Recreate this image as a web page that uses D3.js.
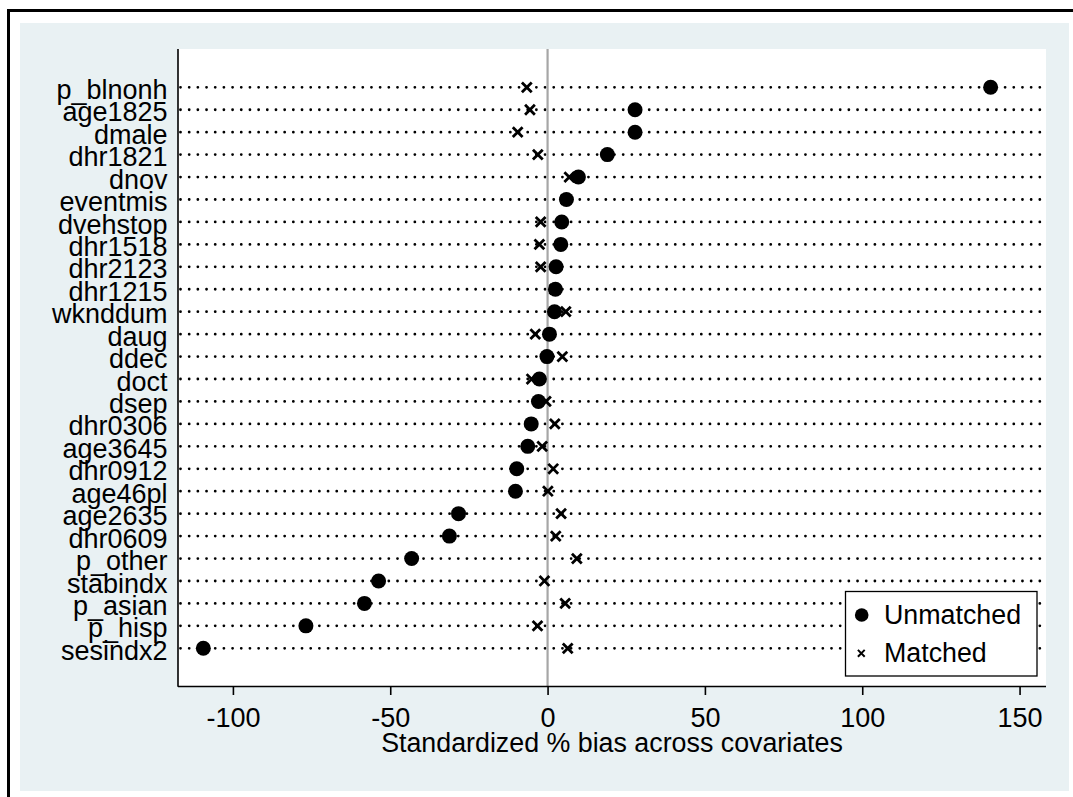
<!DOCTYPE html>
<html>
<head>
<meta charset="utf-8">
<script src="https://cdn.jsdelivr.net/npm/d3@7"></script>
<style>
  body { margin: 0; background: #fff; }
  svg { display: block; font-family: "Liberation Sans", Arial, sans-serif; }
</style>
</head>
<body>
<svg id="chart" width="1073" height="797"></svg>
<script>
// covariates, top to bottom
var covariates = ["p_blnonh","age1825","dmale","dhr1821","dnov","eventmis","dvehstop","dhr1518",
  "dhr2123","dhr1215","wknddum","daug","ddec","doct","dsep","dhr0306","age3645","dhr0912",
  "age46pl","age2635","dhr0609","p_other","stabindx","p_asian","p_hisp","sesindx2"];
var unmatched = [140.8, 27.8, 27.8, 19.0, 9.8, 6.0, 4.5, 4.2, 2.7, 2.5, 2.2, 0.6, -0.2,
  -2.6, -2.9, -5.2, -6.3, -9.8, -10.2, -28.3, -31.2, -43.2, -53.7, -58.2, -76.8, -109.4];
var matched = [-6.6, -5.6, -9.5, -3.1, 6.9, 5.8, -2.2, -2.6, -2.2, 2.2, 5.8, -3.9, 4.7,
  -5.1, -0.5, 2.3, -1.7, 1.8, 0.1, 4.3, 2.6, 9.3, -1.0, 5.6, -3.2, 6.4];
var xTicks = [-100, -50, 0, 50, 100, 150];
var xTitle = "Standardized % bias across covariates";
var legendLabels = ["Unmatched", "Matched"];

var data = covariates.map((name, i) => ({name: name, u: unmatched[i], m: matched[i]}));

var svg = d3.select("#chart");
var plot = {left: 178, right: 1046, top: 49, bottom: 686};
var font = "'Liberation Sans', Arial, sans-serif";

// graph region
svg.append("rect")
    .attr("x", 20).attr("y", 23).attr("width", 1049).attr("height", 768)
    .attr("fill", "#e9f1f3");
svg.append("rect")
    .attr("x", plot.left).attr("y", plot.top)
    .attr("width", plot.right - plot.left).attr("height", plot.bottom - plot.top)
    .attr("fill", "#fff");

var x = d3.scaleLinear()
    .domain([-117.45, 158.4])
    .range([plot.left, plot.right]);

var y = d3.scalePoint()
    .domain(covariates)
    .range([87.3, 648.3]);

// dotted row lines
svg.append("g")
  .selectAll("line")
  .data(covariates)
  .join("line")
    .attr("x1", plot.left + 2.5)
    .attr("x2", plot.right)
    .attr("y1", d => y(d))
    .attr("y2", d => y(d))
    .attr("stroke", "#000")
    .attr("stroke-width", 2.8)
    .attr("stroke-linecap", "round")
    .attr("stroke-dasharray", "0 8.68");

// zero line
svg.append("line")
    .attr("x1", x(0)).attr("x2", x(0))
    .attr("y1", plot.top).attr("y2", plot.bottom)
    .attr("stroke", "#a6a6a6").attr("stroke-width", 2.2);

// matched markers (x)
var cross = s => `M${-s},${-s}L${s},${s}M${-s},${s}L${s},${-s}`;
svg.append("g")
  .selectAll("path")
  .data(data)
  .join("path")
    .attr("transform", d => `translate(${x(d.m)},${y(d.name)})`)
    .attr("d", cross(4.9))
    .attr("fill", "none")
    .attr("stroke", "#000")
    .attr("stroke-width", 2.8);

// unmatched markers (dots)
svg.append("g")
  .selectAll("circle")
  .data(data)
  .join("circle")
    .attr("cx", d => x(d.u))
    .attr("cy", d => y(d.name))
    .attr("r", 7.5)
    .attr("fill", "#000");

// axes
svg.append("line")
    .attr("x1", plot.left).attr("x2", plot.left)
    .attr("y1", plot.top).attr("y2", plot.bottom + 0.75)
    .attr("stroke", "#000").attr("stroke-width", 1.6);

var xAxis = g => g
    .attr("transform", `translate(0,${plot.bottom})`)
    .call(d3.axisBottom(x).tickValues(xTicks).tickSize(9).tickSizeOuter(0).tickFormat(d => String(d)))
    .call(g => g.select(".domain").attr("d", `M${plot.left},0.5H${plot.right}`).attr("stroke-width", 1.6))
    .call(g => g.selectAll(".tick line").attr("stroke-width", 1.6))
    .call(g => g.selectAll(".tick text")
        .attr("y", 40.7).attr("dy", null)
        .attr("fill", "#000")
        .style("font-size", "27px")
        .style("font-family", font))

var yAxis = g => g
    .attr("transform", `translate(${plot.left},0)`)
    .call(d3.axisLeft(y).tickSize(0).tickPadding(10.5))
    .call(g => g.select(".domain").remove())
    .call(g => g.selectAll(".tick text")
        .attr("dy", "0.41em")
        .attr("fill", "#000")
        .style("font-size", "27px")
        .style("font-family", font))

svg.append("g").call(xAxis);
svg.append("g").call(yAxis);

svg.append("text")
    .attr("x", (plot.left + plot.right) / 2)
    .attr("y", 751.7)
    .attr("text-anchor", "middle")
    .style("font-size", "26.8px")
    .text(xTitle);

// legend
var legend = svg.append("g");
legend.append("rect")
    .attr("x", 845.5).attr("y", 591.5).attr("width", 191.5).attr("height", 84.5)
    .attr("fill", "#fff").attr("stroke", "#000").attr("stroke-width", 1.3);
legend.append("circle")
    .attr("cx", 861.7).attr("cy", 615).attr("r", 6.8).attr("fill", "#000");
legend.append("path")
    .attr("transform", "translate(861.3,653.3)")
    .attr("d", cross(3.4))
    .attr("stroke", "#000").attr("stroke-width", 2);
legend.selectAll("text")
  .data(legendLabels)
  .join("text")
    .attr("x", 884)
    .attr("y", (d, i) => 624 + i * 37.7)
    .style("font-size", "26.8px")
    .text(d => d);

// outer frame: only its top and left edges fall inside the picture
svg.append("line")
    .attr("x1", 7).attr("x2", 1073).attr("y1", 10.5).attr("y2", 10.5)
    .attr("stroke", "#000").attr("stroke-width", 3);
svg.append("line")
    .attr("x1", 8.5).attr("x2", 8.5).attr("y1", 9).attr("y2", 797)
    .attr("stroke", "#000").attr("stroke-width", 3);
</script>
</body>
</html>
